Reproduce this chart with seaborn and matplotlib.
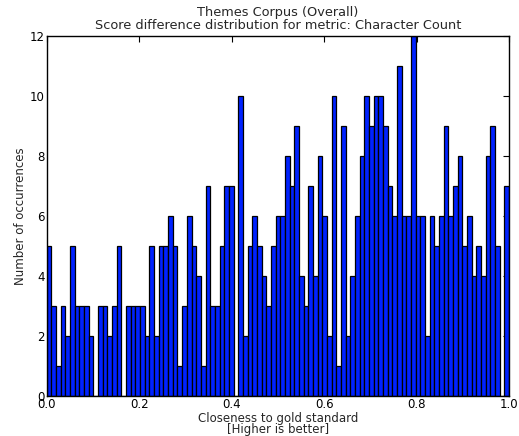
import numpy as np
import pandas as pd
import matplotlib
matplotlib.use("Agg")
import matplotlib.pyplot as plt
import seaborn as sns

# Bin counts (99 equal bins on [0, 1])
counts = [5, 3, 1, 3, 2, 5, 3, 3, 3, 2,
          0, 3, 3, 2, 3, 5, 0, 3, 3, 3,
          3, 2, 5, 2, 5, 5, 6, 5, 1, 3,
          6, 5, 4, 1, 7, 3, 3, 5, 7, 7,
          0, 10, 2, 5, 6, 5, 4, 3, 5, 6,
          6, 8, 7, 9, 4, 3, 7, 4, 8, 6,
          2, 10, 1, 9, 2, 4, 6, 8, 10, 9,
          10, 10, 9, 7, 6, 11, 6, 6, 12, 6,
          6, 2, 6, 5, 6, 9, 6, 7, 8, 5,
          6, 4, 5, 4, 8, 9, 5, 0, 7]
n_bins = len(counts)
x_ticks = [0.0, 0.2, 0.4, 0.6, 0.8, 1.0]
y_ticks = [0, 2, 4, 6, 8, 10, 12]
title = "Themes Corpus (Overall)\nScore difference distribution for metric: Character Count"
xlabel = "Closeness to gold standard\n[Higher is better]"
ylabel = "Number of occurrences"

edges = np.linspace(0, 1, n_bins + 1)
centers = (edges[:-1] + edges[1:]) / 2
df = pd.DataFrame({"score": centers, "count": np.array(counts, dtype=float)})

sns.set_style("white")
plt.rcParams["font.family"] = ["DejaVu Sans"]
plt.rcParams["xtick.direction"] = "in"
plt.rcParams["ytick.direction"] = "in"

fig = plt.figure(figsize=(5.19, 4.36), dpi=100)
ax = fig.add_axes([0.09, 0.092, 0.891, 0.825])

sns.histplot(data=df, x="score", weights="count", bins=n_bins, binrange=(0, 1),
             ax=ax, color="#0022ff", edgecolor="black", linewidth=0.9, alpha=1.0)

ax.set_xlim(0, 1)
ax.set_ylim(0, 12)
ax.set_xticks(x_ticks)
ax.set_xticklabels([f"{t:.1f}" for t in x_ticks])
ax.set_yticks(y_ticks)
ax.tick_params(axis="both", which="both", direction="in", top=True, right=True,
               length=4, width=0.8, labelsize=8.5, pad=1.5, colors="black")
for s in ax.spines.values():
    s.set_color("black")
    s.set_linewidth(1.0)

ax.set_title(title, fontsize=9.3, linespacing=0.95, pad=5.5)
ax.set_xlabel(xlabel, fontsize=8.5, linespacing=0.8, labelpad=0.5)
ax.set_ylabel(ylabel, fontsize=8.5, labelpad=2)

fig.savefig("out.png", dpi=100, facecolor="white")
